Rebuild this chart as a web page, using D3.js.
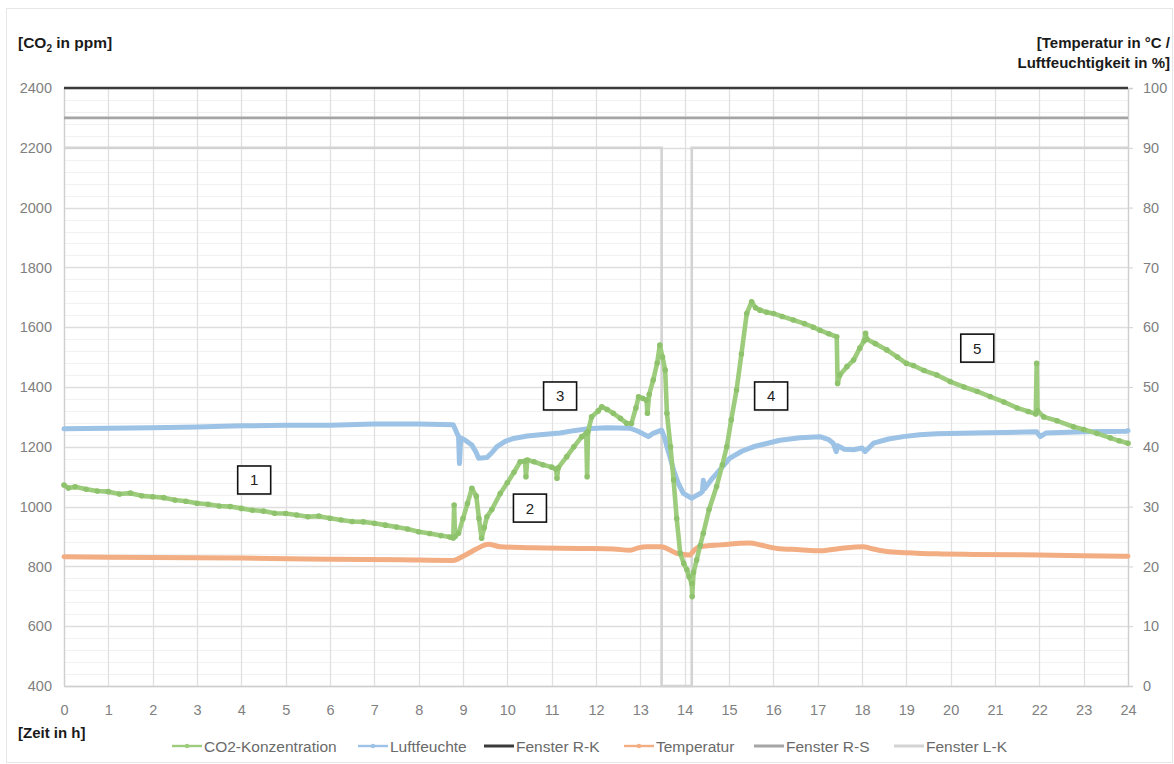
<!DOCTYPE html>
<html>
<head>
<meta charset="utf-8">
<script src="https://cdn.jsdelivr.net/npm/d3@7"></script>
<style>
  html, body { margin: 0; padding: 0; background: #fff; }
  svg { display: block; font-family: "Liberation Sans", Arial, sans-serif; }
</style>
</head>
<body>
<svg id="chart" width="1174" height="764"></svg>
<script>
// ---- Data: time in hours, CO2 in ppm (left axis), humidity / temperature / window states on right axis ----
const co2Hours = [0, 0.1, 0.25, 0.5, 0.75, 1, 1.25, 1.5, 1.75, 2, 2.25, 2.5, 2.75, 3, 3.25, 3.5, 3.75, 4, 4.25, 4.5, 4.75, 5, 5.25, 5.5, 5.75, 6, 6.25, 6.5, 6.75, 7, 7.25, 7.5, 7.75, 8, 8.25, 8.5, 8.7, 8.78, 8.8, 8.82, 8.9, 9.0, 9.1, 9.2, 9.3, 9.36, 9.42, 9.48, 9.54, 9.65, 9.84, 10.0, 10.15, 10.29, 10.4, 10.42, 10.45, 10.6, 10.8, 11.0, 11.1, 11.12, 11.15, 11.34, 11.5, 11.68, 11.78, 11.8, 11.82, 11.9, 12.05, 12.13, 12.25, 12.39, 12.55, 12.69, 12.8, 12.9, 12.96, 13.05, 13.14, 13.16, 13.2, 13.29, 13.38, 13.44, 13.5, 13.56, 13.6, 13.68, 13.75, 13.82, 13.9, 13.98, 14.05, 14.1, 14.16, 14.17, 14.2, 14.27, 14.35, 14.42, 14.55, 14.72, 14.85, 14.95, 15.05, 15.17, 15.28, 15.4, 15.51, 15.6, 15.7, 15.85, 16.0, 16.2, 16.45, 16.7, 16.9, 17.05, 17.25, 17.43, 17.45, 17.5, 17.66, 17.81, 17.95, 18.05, 18.08, 18.11, 18.3, 18.56, 18.8, 19.0, 19.16, 19.4, 19.69, 19.99, 20.3, 20.6, 20.89, 21.2, 21.5, 21.75, 21.92, 21.94, 21.96, 22.1, 22.4, 22.77, 23.0, 23.3, 23.6, 23.8, 24.0];
const co2Values = [1072, 1062, 1066, 1058, 1052, 1050, 1042, 1045, 1036, 1033, 1030, 1022, 1018, 1011, 1008, 1002, 1000, 994, 988, 985, 978, 977, 972, 966, 968, 961, 955, 950, 949, 944, 938, 932, 925, 916, 910, 903, 898, 895, 1005, 900, 911, 960, 1010, 1061, 1035, 960, 894, 930, 966, 990, 1044, 1080, 1115, 1150, 1152, 1100, 1156, 1150, 1140, 1132, 1125, 1095, 1130, 1167, 1200, 1234, 1245, 1100, 1250, 1300, 1320, 1334, 1325, 1312, 1295, 1279, 1278, 1330, 1367, 1362, 1356, 1312, 1375, 1423, 1480, 1540, 1500, 1457, 1312, 1200, 1089, 960, 844, 810, 789, 765, 743, 699, 780, 821, 870, 911, 990, 1067, 1140, 1200, 1290, 1390, 1510, 1646, 1685, 1665, 1657, 1650, 1646, 1636, 1624, 1612, 1600, 1590, 1578, 1568, 1412, 1440, 1468, 1490, 1530, 1555, 1580, 1560, 1545, 1524, 1500, 1479, 1472, 1455, 1440, 1418, 1400, 1385, 1368, 1350, 1330, 1318, 1310, 1479, 1320, 1300, 1287, 1267, 1258, 1245, 1230, 1220, 1212];

const humHours = [0, 1, 2, 3, 4, 5, 6, 7, 8, 8.78, 8.85, 8.9, 8.92, 8.95, 9.05, 9.2, 9.3, 9.35, 9.54, 9.65, 9.76, 9.95, 10.14, 10.45, 10.74, 11.19, 11.5, 11.79, 12.24, 12.77, 12.95, 13.18, 13.3, 13.48, 13.55, 13.6, 13.68, 13.75, 13.85, 13.97, 14.16, 14.25, 14.35, 14.4, 14.42, 14.45, 14.6, 14.72, 15.02, 15.3, 15.55, 16.15, 16.6, 17.05, 17.25, 17.35, 17.42, 17.45, 17.6, 17.81, 18.0, 18.07, 18.26, 18.6, 18.93, 19.3, 19.69, 20.51, 21.2, 21.94, 22.02, 22.15, 23.0, 23.97, 24];
const humValues = [43.0, 43.1, 43.2, 43.3, 43.5, 43.6, 43.6, 43.8, 43.8, 43.7, 42.5, 41.7, 37.2, 41.5, 41.1, 40.3, 39.0, 38.1, 38.2, 39.0, 40.0, 40.9, 41.4, 41.8, 42.0, 42.3, 42.7, 43.0, 43.2, 43.1, 42.6, 41.7, 42.3, 42.8, 41.5, 40.0, 38.0, 36.1, 34.0, 32.2, 31.4, 31.8, 32.2, 32.5, 34.4, 33.0, 34.5, 35.5, 38.1, 39.3, 40.0, 41.1, 41.5, 41.7, 41.2, 40.6, 39.2, 40.2, 39.6, 39.5, 39.8, 39.2, 40.6, 41.3, 41.7, 42.0, 42.2, 42.3, 42.4, 42.5, 41.7, 42.3, 42.5, 42.6, 42.7];

const tempHours = [0, 2, 4, 6, 7.58, 8.78, 9.0, 9.3, 9.57, 9.84, 10.59, 11.71, 12.4, 12.77, 12.95, 13.14, 13.48, 13.65, 13.82, 14.12, 14.2, 14.35, 14.8, 15.47, 15.7, 16.08, 16.6, 17.05, 17.5, 18.03, 18.2, 18.56, 19.0, 19.69, 20.5, 22.0, 23.0, 24];
const tempValues = [21.6, 21.5, 21.4, 21.2, 21.1, 21.0, 21.7, 22.9, 23.7, 23.3, 23.1, 23.0, 22.9, 22.7, 23.1, 23.3, 23.3, 22.8, 22.2, 21.9, 22.6, 23.3, 23.6, 23.9, 23.6, 23.0, 22.8, 22.6, 23.0, 23.3, 23.0, 22.5, 22.3, 22.1, 22.0, 21.9, 21.8, 21.7];

// Window states drawn as levels on the right axis
const fensterRKHours = [0, 24];
const fensterRKValues = [100, 100];
const fensterRSHours = [0, 24];
const fensterRSValues = [95, 95];
const fensterLKHours = [0, 13.48, 13.48, 14.16, 14.16, 24];
const fensterLKValues = [90, 90, 0, 0, 90, 90];

// Axis ticks
const xTicks = d3.range(0, 25, 1);
const yLeftTicks = [400, 600, 800, 1000, 1200, 1400, 1600, 1800, 2000, 2200, 2400];
const yRightTicks = [0, 10, 20, 30, 40, 50, 60, 70, 80, 90, 100];

// Numbered phases
const phaseLabels = ["1", "2", "3", "4", "5"];
const phaseHours = [4.29, 10.51, 11.19, 15.95, 20.6];
const phasePpm = [1089, 995, 1370, 1370, 1530];

// Legend entries
const legendNames = ["CO2-Konzentration", "Luftfeuchte", "Fenster R-K", "Temperatur", "Fenster R-S", "Fenster L-K"];

// ---- Layout ----
const svg = d3.select("#chart");
const plot = { left: 64, right: 1128, top: 88, bottom: 686 };

const x = d3.scaleLinear().domain([0, 24]).range([plot.left, plot.right]);
const yL = d3.scaleLinear().domain([400, 2400]).range([plot.bottom, plot.top]);
const yR = d3.scaleLinear().domain([0, 100]).range([plot.bottom, plot.top]);

const colors = {
  co2: "#9ccc7c", co2Dot: "#8ec26d",
  hum: "#9cc2e5",
  temp: "#f2ae82",
  rk: "#3b3b3b", rs: "#a5a5a5", lk: "#d3d3d3"
};

// Outer chart frame
svg.append("rect").attr("x", 6.5).attr("y", 8.5).attr("width", 1166).attr("height", 754)
  .attr("fill", "none").attr("stroke", "#e6e6e6").attr("stroke-width", 1);

// ---- Gridlines ----
const grid = svg.append("g");
const minorTicks = d3.range(400, 2401, 40).filter(v => v % 200 !== 0);
grid.selectAll(".minor").data(minorTicks).join("line")
  .attr("x1", plot.left).attr("x2", plot.right)
  .attr("y1", d => Math.round(yL(d)) + 0.5).attr("y2", d => Math.round(yL(d)) + 0.5)
  .attr("stroke", "#f1f1f1").attr("stroke-width", 1);
grid.selectAll(".major").data(yLeftTicks).join("line")
  .attr("x1", plot.left).attr("x2", plot.right)
  .attr("y1", d => Math.round(yL(d)) + 0.5).attr("y2", d => Math.round(yL(d)) + 0.5)
  .attr("stroke", "#dedede").attr("stroke-width", 1.3);
grid.selectAll(".vert").data(xTicks).join("line")
  .attr("x1", d => Math.round(x(d)) + 0.5).attr("x2", d => Math.round(x(d)) + 0.5)
  .attr("y1", plot.top).attr("y2", plot.bottom)
  .attr("stroke", "#e0e0e0").attr("stroke-width", 1.3);

// ---- Axes ----
const tickColor = "#7f7f7f";
const axisL = svg.append("g").attr("transform", `translate(${plot.left},0)`)
  .call(d3.axisLeft(yL).tickValues(yLeftTicks).tickSize(0).tickPadding(12).tickFormat(d3.format("d")));
const axisR = svg.append("g").attr("transform", `translate(${plot.right},0)`)
  .call(d3.axisRight(yR).tickValues(yRightTicks).tickSize(5).tickPadding(10).tickFormat(d3.format("d")));
const axisB = svg.append("g").attr("transform", `translate(0,${plot.bottom})`)
  .call(d3.axisBottom(x).tickValues(xTicks).tickSize(0).tickPadding(19).tickFormat(d3.format("d")));

[axisL, axisR, axisB].forEach(a => {
  a.selectAll("text").attr("fill", tickColor).style("font-size", "14.5px");
  a.selectAll(".tick line").attr("stroke", "#cfcfcf");
  a.select(".domain").attr("stroke", "#cfcfcf").attr("stroke-width", 1.3);
});

// ---- Series ----
const lineOf = (ys) => d3.line().x(d => x(d[0])).y(d => ys(d[1]));
const pairs = (hs, vs) => hs.map((h, i) => [h, vs[i]]);

const series = svg.append("g");
series.append("path").datum(pairs(fensterRKHours, fensterRKValues))
  .attr("d", lineOf(yR)).attr("fill", "none").attr("stroke", colors.rk).attr("stroke-width", 2.6);
series.append("path").datum(pairs(fensterRSHours, fensterRSValues))
  .attr("d", lineOf(yR)).attr("fill", "none").attr("stroke", colors.rs).attr("stroke-width", 2.6);
series.append("path").datum(pairs(fensterLKHours, fensterLKValues))
  .attr("d", lineOf(yR)).attr("fill", "none").attr("stroke", colors.lk).attr("stroke-width", 2.6);

series.append("path").datum(pairs(tempHours, tempValues))
  .attr("d", lineOf(yR).curve(d3.curveMonotoneX)).attr("fill", "none")
  .attr("stroke", colors.temp).attr("stroke-width", 5).attr("stroke-linejoin", "round").attr("stroke-linecap", "round");

series.append("path").datum(pairs(humHours, humValues))
  .attr("d", lineOf(yR)).attr("fill", "none")
  .attr("stroke", colors.hum).attr("stroke-width", 5).attr("stroke-linejoin", "round").attr("stroke-linecap", "round");

const co2Data = pairs(co2Hours, co2Values);
series.append("path").datum(co2Data)
  .attr("d", lineOf(yL)).attr("fill", "none")
  .attr("stroke", colors.co2).attr("stroke-width", 4.6).attr("stroke-linejoin", "round").attr("stroke-linecap", "round");
series.selectAll(".co2dot").data(co2Data).join("circle")
  .attr("cx", d => x(d[0])).attr("cy", d => yL(d[1])).attr("r", 2.8)
  .attr("fill", colors.co2Dot);

// ---- Phase boxes ----
const boxes = svg.append("g");
phaseLabels.forEach((lab, i) => {
  const cx = x(phaseHours[i]), cy = yL(phasePpm[i]);
  boxes.append("rect").attr("x", cx - 16.5).attr("y", cy - 14).attr("width", 33).attr("height", 28)
    .attr("fill", "#fff").attr("stroke", "#111").attr("stroke-width", 1.6);
  boxes.append("text").attr("x", cx).attr("y", cy + 5.5).attr("text-anchor", "middle")
    .style("font-size", "15px").attr("fill", "#222").text(lab);
});

// ---- Axis titles ----
const tL = svg.append("text").attr("x", 18).attr("y", 48).style("font-size", "15.5px").style("font-weight", "bold").attr("fill", "#1a1a1a");
tL.append("tspan").text("[CO");
tL.append("tspan").attr("dy", 4).style("font-size", "10px").text("2");
tL.append("tspan").attr("dy", -4).text(" in ppm]");

svg.append("text").attr("x", 1170).attr("y", 48).attr("text-anchor", "end")
  .style("font-size", "15px").style("font-weight", "bold").attr("fill", "#1a1a1a").text("[Temperatur in °C /");
svg.append("text").attr("x", 1170).attr("y", 68).attr("text-anchor", "end")
  .style("font-size", "15px").style("font-weight", "bold").attr("fill", "#1a1a1a").text("Luftfeuchtigkeit in %]");
svg.append("text").attr("x", 18).attr("y", 738)
  .style("font-size", "15px").style("font-weight", "bold").attr("fill", "#1a1a1a").text("[Zeit in h]");

// ---- Legend ----
const legendX = [172, 358, 484, 624, 754, 894];
const legendStroke = [colors.co2, colors.hum, colors.rk, colors.temp, colors.rs, colors.lk];
const legendMarker = [true, true, false, true, false, false];
const leg = svg.append("g").attr("transform", "translate(0,746)");
legendNames.forEach((name, i) => {
  const g = leg.append("g").attr("transform", `translate(${legendX[i]},0)`);
  g.append("line").attr("x1", 0).attr("x2", 30).attr("y1", 0).attr("y2", 0)
    .attr("stroke", legendStroke[i]).attr("stroke-width", i === 2 || i === 4 || i === 5 ? 3 : 2.4);
  if (legendMarker[i]) {
    g.append("circle").attr("cx", 15).attr("cy", 0).attr("r", 2.2).attr("fill", legendStroke[i]);
  }
  g.append("text").attr("x", 32).attr("y", 5.5).style("font-size", "15.5px").attr("fill", "#6a6a6a").text(name);
});
</script>
</body>
</html>
